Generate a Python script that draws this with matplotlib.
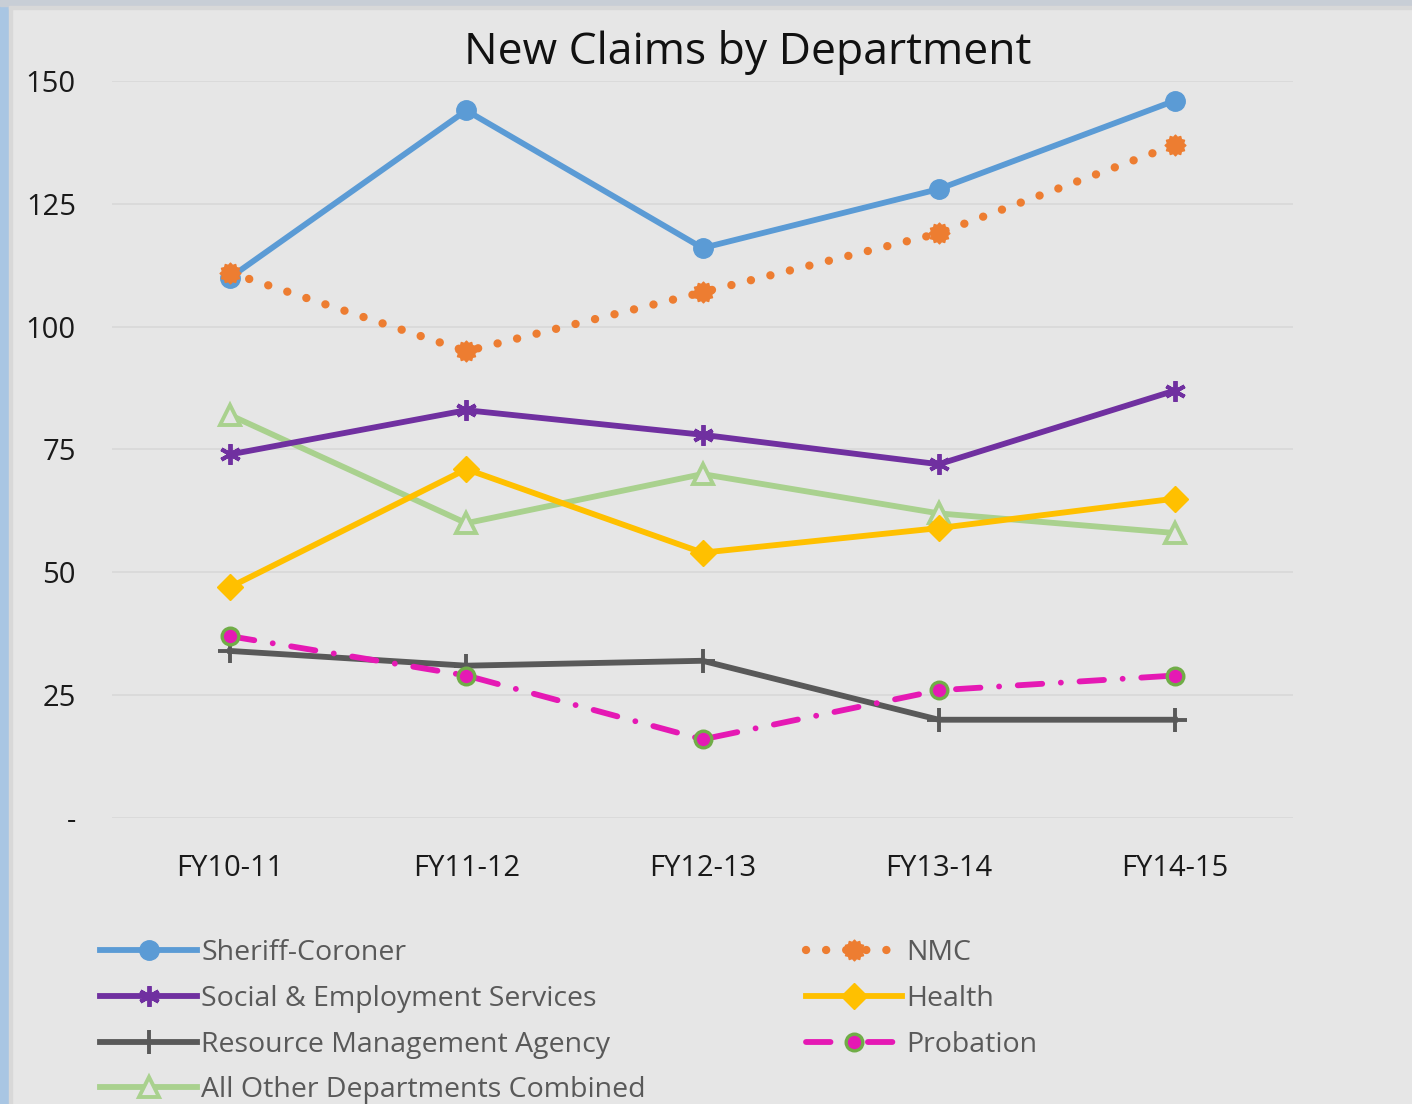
import numpy as np
import matplotlib.pyplot as plt
from matplotlib.path import Path
from matplotlib.patches import Rectangle

plt.rcParams['font.family'] = ['Open Sans', 'DejaVu Sans']

# data
years = ['FY10-11', 'FY11-12', 'FY12-13', 'FY13-14', 'FY14-15']
sheriff = [110, 144, 116, 128, 146]
nmc = [111, 95, 107, 119, 137]
social = [74, 83, 78, 72, 87]
health = [47, 71, 54, 59, 65]
rma = [34, 31, 32, 20, 20]
probation = [37, 29, 16, 26, 29]
other = [82, 60, 70, 62, 58]

bg = '#e6e6e6'
fig = plt.figure(figsize=(14.12, 11.04), dpi=100, facecolor=bg)
ax = fig.add_axes([112/1412, 1 - 818/1104, (1293 - 112)/1412, (818 - 81)/1104])
ax.set_facecolor(bg)

# window border bits from the screenshot
fig.patches.append(Rectangle((0, 0), 9/1412, 1, transform=fig.transFigure, color='#a9c6e3', zorder=-1))
fig.patches.append(Rectangle((9/1412, 0), 3/1412, 1, transform=fig.transFigure, color='#d8d8d8', zorder=-1))
fig.patches.append(Rectangle((0, 1 - 6/1104), 1, 6/1104, transform=fig.transFigure, color='#c8ced6', zorder=-1))
fig.patches.append(Rectangle((9/1412, 1 - 9/1104), 1, 3/1104, transform=fig.transFigure, color='#d8d8d8', zorder=-1))

# gear-ish marker for NMC
ang = np.linspace(0, 2*np.pi, 25)[:-1]
rad = np.where(np.arange(24) % 2 == 0, 1.0, 0.8)
verts = np.column_stack([rad*np.sin(ang), rad*np.cos(ang)])
verts = np.vstack([verts, verts[:1]])
gear = Path(verts, [Path.MOVETO] + [Path.LINETO]*23 + [Path.CLOSEPOLY])

x = np.arange(len(years))
lw = 4.2
ax.plot(x, sheriff, color='#5b9bd5', lw=lw, marker='o', ms=14, label='Sheriff-Coroner', zorder=5)
ax.plot(x, nmc, color='#ed7d31', lw=6.0, ls=(0, (0.01, 2.4)), dash_capstyle='round',
        marker=gear, ms=15, label='NMC', zorder=5)
ax.plot(x, social, color='#7030a0', lw=lw, marker=(6, 2, 0), ms=15, mew=2.8,
        label='Social & Employment Services', zorder=4)
ax.plot(x, health, color='#ffc000', lw=lw, marker='D', ms=13, label='Health', zorder=4)
ax.plot(x, rma, color='#595959', lw=lw, marker='+', ms=17, mew=2.8,
        label='Resource Management Agency', zorder=3)
ax.plot(x, probation, color='#e519b4', lw=lw, ls=(0, (4.2, 3.2, 0.01, 3.2)), dash_capstyle='round',
        marker='o', ms=12, mfc='#e519b4', mec='#70ad47', mew=2.4, label='Probation', zorder=4)
ax.plot(x, other, color='#a9d18e', lw=lw, marker='^', ms=15, mfc=bg, mec='#a9d18e', mew=2.8,
        label='All Other Departments Combined', zorder=3)

ax.set_xlim(-0.5, 4.5)
ax.set_ylim(0, 150)
ax.set_xticks(x)
ax.set_xticklabels(years)
ax.set_yticks([0, 25, 50, 75, 100, 125, 150])
ax.set_yticklabels(['-', '25', '50', '75', '100', '125', '150'])
ax.tick_params(length=0, labelsize=21, colors='#1a1a1a')
ax.tick_params(axis='x', pad=26)
ax.tick_params(axis='y', pad=26)
for lab in ax.get_yticklabels():
    lab.set_horizontalalignment('right')
ax.grid(axis='y', color='#d9d9d9', lw=1.3)
ax.set_axisbelow(True)
for s in ax.spines.values():
    s.set_visible(False)

ax.set_title('New Claims by Department', fontsize=32, color='#111111', pad=12,
             x=(748 - 112)/(1293 - 112))

handles, labels = ax.get_legend_handles_labels()
order = [0, 2, 4, 6, 1, 3, 5]
leg = fig.legend([handles[i] for i in order], [labels[i] for i in order],
                 loc='upper left', bbox_to_anchor=(89/1412, 1 - 928/1104), ncol=2,
                 frameon=False, fontsize=20.5, labelcolor='#595959', handlelength=3.4,
                 handletextpad=0.15, columnspacing=5.6, labelspacing=0.62, borderaxespad=0)

fig.savefig('out.png', dpi=100, facecolor=bg)
